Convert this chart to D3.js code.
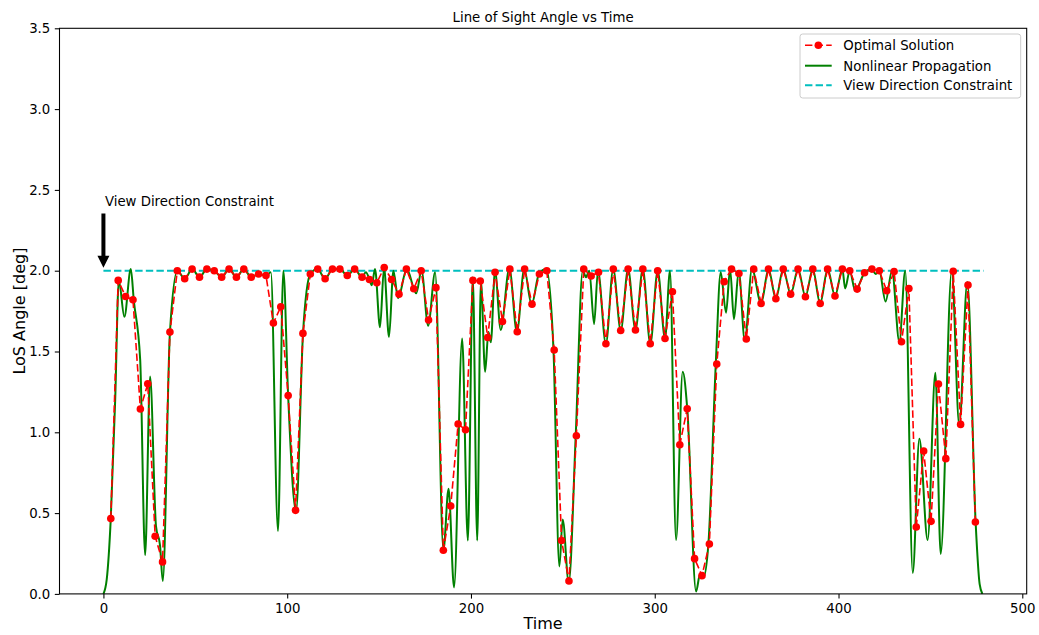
<!DOCTYPE html>
<html>
<head>
<meta charset="utf-8">
<script src="https://cdn.jsdelivr.net/npm/d3@7"></script>
<style>
  body { margin: 0; background: #fff; }
  svg text { font-family: "DejaVu Sans", sans-serif; fill: #000; }
</style>
</head>
<body>
<svg id="chart" width="1039" height="635"></svg>
<script>
// ---- data ----
// optimal solution nodes, evenly spaced in time
var nodeStep = 4.021;
var optimalAngle = [
  0.466, 1.94, 1.84, 1.82, 1.144, 1.30, 0.357, 0.198, 1.62, 2.0,
  1.95, 2.01, 1.96, 2.01, 2.0, 1.96, 2.01, 1.96, 2.01, 1.96,
  1.98, 1.97, 1.676, 1.777, 1.227, 0.517, 1.612, 1.98, 2.01, 1.95,
  2.01, 2.01, 1.97, 2.01, 1.96, 1.946, 1.925, 2.02, 1.946, 1.855,
  2.01, 1.888, 2.0, 1.695, 1.895, 0.27, 0.544, 1.051, 1.016, 1.94,
  1.936, 1.587, 1.99, 1.686, 2.01, 1.622, 2.01, 1.793, 1.98, 2.0,
  1.509, 0.33, 0.08, 0.979, 2.01, 1.967, 1.99, 1.548, 2.01, 1.63,
  2.01, 1.633, 2.01, 1.548, 2.0, 1.58, 1.87, 0.923, 1.146, 0.218,
  0.113, 0.309, 1.422, 1.932, 2.01, 1.983, 1.577, 2.01, 1.797, 2.01,
  1.826, 2.01, 1.855, 2.01, 1.839, 2.01, 1.797, 2.01, 1.843, 2.01,
  2.0, 1.886, 1.987, 2.01, 2.0, 1.876, 1.995, 1.56, 1.89, 0.414,
  0.884, 0.449, 1.299, 0.837, 1.997, 1.049, 1.911, 0.445
];
var optimalTime = d3.range(1, optimalAngle.length + 1).map(function(k) { return k * nodeStep; });

// nonlinear propagation: vertices of the green curve (time, angle)
var propTime = [
  0, 1.8, 4.0, 6.4, 8.4, 11.4, 14.9, 16.5, 20.0, 22.7, 25.4, 28.6, 30.8, 32.3, 36.2, 40.3,
  44.2, 48.3, 52.3, 56.3, 60.3, 64.3, 68.4, 72.4, 76.4, 80.4, 84.4, 88.5, 91.1, 95.0, 97.9,
  100.5, 104.8, 108.6, 112.6, 116.6, 120.6, 124.7, 128.7, 132.7, 136.7, 140.7, 142.8, 144.8,
  146.0, 147.8, 150.5, 152.7, 155.4, 157.8, 160.3, 165.1, 170.2, 173.1, 176.7, 180.5, 185.0,
  187.8, 190.8, 195.2, 198.3, 201.0, 203.4, 205.4, 207.7, 209.5, 210.8, 213.1, 216.2, 220.9,
  225.0, 229.0, 233.0, 237.0, 241.0, 244.9, 248.1, 249.9, 253.2, 257.0, 260.8, 262.6, 264.4,
  267.0, 269.1, 273.4, 277.4, 281.5, 285.5, 289.5, 293.5, 297.6, 301.6, 305.6, 308.3, 311.6,
  315.2, 317.7, 322.5, 324.6, 326.4, 329.2, 333.2, 335.9, 338.8, 341.0, 343.1, 345.7, 349.0,
  352.9, 357.9, 361.9, 365.9, 369.9, 374.0, 378.0, 382.0, 386.0, 390.0, 394.1, 398.1, 402.1,
  403.6, 406.1, 409.1, 414.2, 418.2, 420.2, 422.2, 425.6, 429.1, 433.1, 436.3, 440.4, 444.0,
  448.5, 452.7, 455.6, 461.6, 465.7, 470.1, 474.6, 476.8, 478.3
];
var propAngle = [
  0, 0.09, 0.466, 1.2, 1.94, 1.715, 2.01, 1.82, 1.45, 0.24, 1.345, 0.42, 0.3, 0.08, 1.62, 2.0,
  1.95, 2.01, 1.96, 2.01, 2.0, 1.96, 2.01, 1.96, 2.01, 1.96, 1.98, 1.97, 1.99, 0.39, 2.0,
  1.23, 0.51, 1.61, 1.98, 2.01, 1.95, 2.01, 2.01, 1.97, 2.01, 1.96, 1.99, 1.946,
  1.91, 2.01, 1.65, 2.02, 1.59, 2.0, 1.83, 2.01, 1.86, 2.0, 1.66, 1.99, 0.27,
  0.65, 0.04, 1.58, 0.33, 1.96, 0.33, 1.94, 1.375, 1.62, 1.557, 2.0, 1.633, 2.015,
  1.62, 2.01, 1.79, 1.98, 2.01, 1.509, 0.17, 0.46, 0.07, 0.979, 2.0, 1.96, 2.0,
  1.67, 2.0, 1.548, 2.01, 1.63, 2.01, 1.633, 2.01, 1.548, 2.0, 1.58, 2.0, 0.334,
  1.375, 1.146, 0.015, 0.12, 0.1, 0.31, 1.42, 1.99, 1.74, 2.01, 1.70, 2.0, 1.567,
  2.01, 1.797, 2.01, 1.826, 2.01, 1.855, 2.01, 1.839, 2.01, 1.797, 2.01, 1.843, 2.01,
  1.89, 2.0, 1.876, 1.987, 2.01, 1.98, 2.0, 1.81, 2.0, 1.56, 2.0, 0.13, 0.96,
  0.334, 1.369, 0.247, 2.0, 1.045, 1.93, 0.445, 0.06, 0
];

var constraintAngle = 2.0;
var constraintSpan = [0, 479];

var xTicks = [0, 100, 200, 300, 400, 500];
var yTicks = [0, 0.5, 1.0, 1.5, 2.0, 2.5, 3.0, 3.5];

var legendLabels = ["Optimal Solution", "Nonlinear Propagation", "View Direction Constraint"];

// ---- layout ----
var svg = d3.select("#chart"),
    plotL = 59.5, plotR = 1026.7, plotT = 28.3, plotB = 593.9;

var x = d3.scaleLinear().domain([-23.9, 502.4]).range([plotL, plotR]);
var y = d3.scaleLinear().domain([0, 3.5]).range([plotB, plotT]);

svg.append("defs").append("clipPath").attr("id", "plotclip")
  .append("rect")
    .attr("x", plotL).attr("y", plotT)
    .attr("width", plotR - plotL).attr("height", plotB - plotT);

var plot = svg.append("g").attr("clip-path", "url(#plotclip)");

// constraint line
plot.append("line")
    .attr("x1", x(constraintSpan[0])).attr("x2", x(constraintSpan[1]))
    .attr("y1", y(constraintAngle)).attr("y2", y(constraintAngle))
    .attr("stroke", "#00bfbf")
    .attr("stroke-width", 2)
    .attr("stroke-dasharray", "7.4,3.2");

// nonlinear propagation
var prop = propTime.map(function(t, i) { return [t, propAngle[i]]; });
plot.append("path")
    .datum(prop)
    .attr("fill", "none")
    .attr("stroke", "#008000")
    .attr("stroke-width", 2)
    .attr("d", d3.line()
      .curve(d3.curveMonotoneX)
      .x(function(d) { return x(d[0]); })
      .y(function(d) { return y(d[1]); }));

// optimal solution
var opt = optimalTime.map(function(t, i) { return [t, optimalAngle[i]]; });
plot.append("path")
    .datum(opt)
    .attr("fill", "none")
    .attr("stroke", "#ff0000")
    .attr("stroke-width", 1.6)
    .attr("stroke-dasharray", "7.4,3.2")
    .attr("d", d3.line()
      .x(function(d) { return x(d[0]); })
      .y(function(d) { return y(d[1]); }));

plot.append("g")
  .selectAll("circle")
  .data(opt)
  .enter().append("circle")
    .attr("cx", function(d) { return x(d[0]); })
    .attr("cy", function(d) { return y(d[1]); })
    .attr("r", 3.8)
    .attr("fill", "#ff0000");

// frame
svg.append("rect")
    .attr("x", plotL).attr("y", plotT)
    .attr("width", plotR - plotL).attr("height", plotB - plotT)
    .attr("fill", "none")
    .attr("stroke", "#000")
    .attr("stroke-width", 1.07);

// axes
var gx = svg.append("g")
    .attr("transform", "translate(0," + plotB + ")")
    .call(d3.axisBottom(x).tickValues(xTicks).tickSize(4.7).tickPadding(4.5).tickFormat(d3.format("d")));
var gy = svg.append("g")
    .attr("transform", "translate(" + plotL + ",0)")
    .call(d3.axisLeft(y).tickValues(yTicks).tickSize(4.7).tickPadding(4.5).tickFormat(d3.format(".1f")));

[gx, gy].forEach(function(g) {
  g.select(".domain").remove();
  g.selectAll(".tick line").attr("stroke", "#000").attr("stroke-width", 1.07);
  g.selectAll(".tick text")
    .attr("font-size", "13.3px")
    .attr("font-family", "DejaVu Sans, sans-serif")
    .attr("fill", "#000");
});

// titles
svg.append("text")
    .attr("x", (plotL + plotR) / 2).attr("y", 21.5)
    .attr("text-anchor", "middle")
    .attr("font-size", "13.3px")
    .text("Line of Sight Angle vs Time");

svg.append("text")
    .attr("x", (plotL + plotR) / 2).attr("y", 629)
    .attr("text-anchor", "middle")
    .attr("font-size", "16px")
    .text("Time");

svg.append("text")
    .attr("transform", "translate(25," + ((plotT + plotB) / 2) + ") rotate(-90)")
    .attr("text-anchor", "middle")
    .attr("font-size", "16px")
    .text("LoS Angle [deg]");

// annotation with arrow
var ax = x(0), tipY = y(constraintAngle) - 3, tailY = y(2.4) + 7.5;
svg.append("text")
    .attr("x", ax + 1.5).attr("y", y(2.4))
    .attr("font-size", "13.3px")
    .text("View Direction Constraint");

svg.append("path")
    .attr("d", d3.line()([
      [ax - 2, tailY], [ax + 2, tailY], [ax + 2, tipY - 12], [ax + 6, tipY - 12],
      [ax, tipY], [ax - 6, tipY - 12], [ax - 2, tipY - 12]
    ]) + "Z")
    .attr("fill", "#000");

// legend
var lg = svg.append("g").attr("transform", "translate(800,34)");
lg.append("rect")
    .attr("width", 220.7).attr("height", 64)
    .attr("rx", 2.7)
    .attr("fill", "#fff").attr("fill-opacity", 0.8)
    .attr("stroke", "#cccccc").attr("stroke-width", 1);

var rows = [11.3, 31.7, 51.3];
legendLabels.forEach(function(lbl, i) {
  var ry = rows[i];
  var ln = lg.append("line")
      .attr("x1", 5).attr("x2", 31.7).attr("y1", ry).attr("y2", ry)
      .attr("stroke-width", 2);
  if (i === 0) {
    ln.attr("stroke", "#ff0000").attr("stroke-dasharray", "7.4,3.2").attr("stroke-width", 1.6);
    lg.append("circle").attr("cx", 18.35).attr("cy", ry).attr("r", 3.8).attr("fill", "#ff0000");
  } else if (i === 1) {
    ln.attr("stroke", "#008000");
  } else {
    ln.attr("stroke", "#00bfbf").attr("stroke-dasharray", "7.4,3.2");
  }
  lg.append("text")
      .attr("x", 43.3).attr("y", ry + 4.8)
      .attr("font-size", "13.3px")
      .text(lbl);
});
</script>
</body>
</html>
